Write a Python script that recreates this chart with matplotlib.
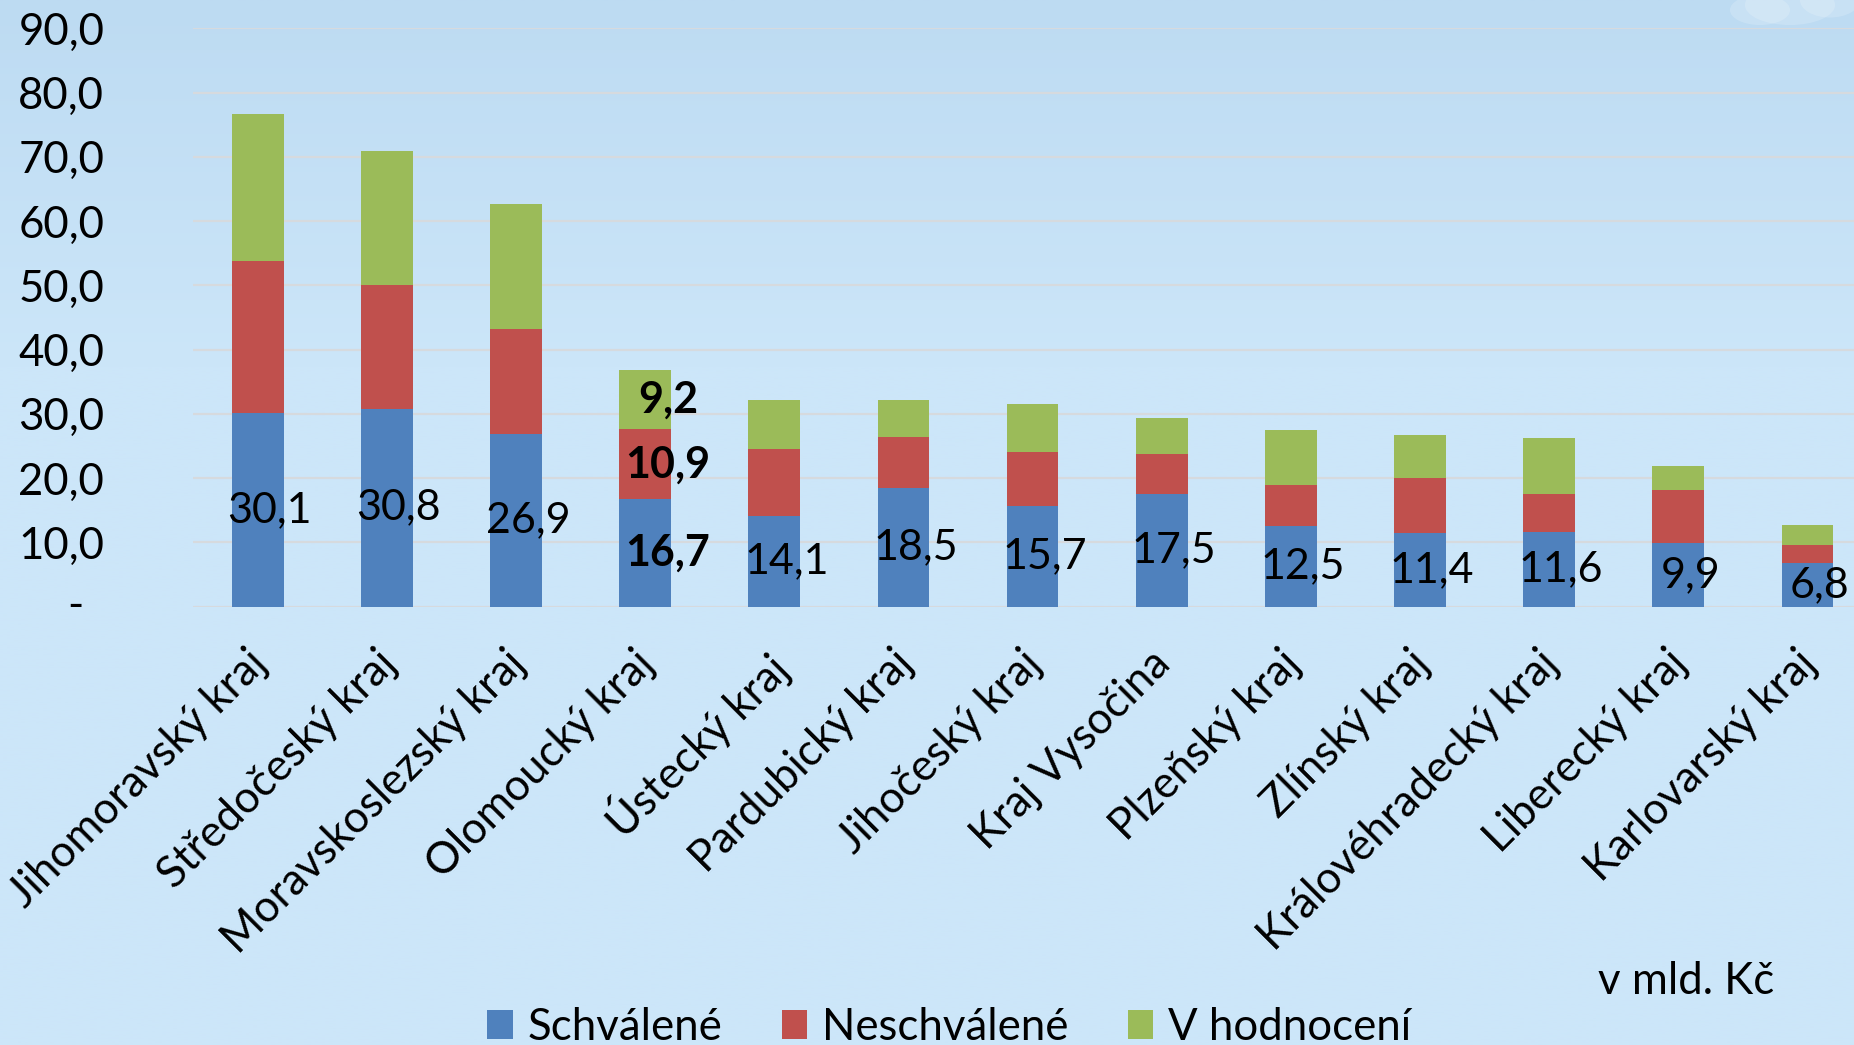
import numpy as np
import matplotlib
matplotlib.use("Agg")
import matplotlib.pyplot as plt
from matplotlib.patches import Patch, Ellipse

# ---- data ----
categories = ["Jihomoravský kraj", "Středočeský kraj", "Moravskoslezský kraj",
              "Olomoucký kraj", "Ústecký kraj", "Pardubický kraj", "Jihočeský kraj",
              "Kraj Vysočina", "Plzeňský kraj", "Zlínský kraj", "Královéhradecký kraj",
              "Liberecký kraj", "Karlovarský kraj"]
schvalene = [30.1, 30.8, 26.9, 16.7, 14.1, 18.5, 15.7, 17.5, 12.5, 11.4, 11.6, 9.9, 6.8]
neschvalene = [23.7, 19.3, 16.3, 10.9, 10.4, 7.9, 8.4, 6.2, 6.5, 8.6, 5.9, 8.2, 2.8]
v_hodnoceni = [22.8, 20.8, 19.5, 9.2, 7.7, 5.7, 7.5, 5.7, 8.5, 6.7, 8.8, 3.8, 3.1]
series_names = ["Schválené", "Neschválené", "V hodnocení"]
yticks = [0, 10, 20, 30, 40, 50, 60, 70, 80, 90]
highlight = "Olomoucký kraj"
unit_text = "v mld. Kč"

colors = ["#4F81BD", "#C0504D", "#9BBB59"]
FONT = "Lato"
FS = 31.5
FS_BAR = 31

W, H = 1854, 1045
fig = plt.figure(figsize=(W / 100, H / 100), dpi=100)

# background gradient
bg = fig.add_axes([0, 0, 1, 1], zorder=-10)
top = np.array([189, 219, 242]) / 255
bot = np.array([204, 230, 249]) / 255
t = np.clip(np.linspace(0, 1, 400) / 0.35, 0, 1)[:, None]
grad = top * (1 - t) + bot * t
img = np.repeat(grad[:, None, :], 2, axis=1)
bg.imshow(img, extent=[0, W, H, 0], aspect="auto")
for (cx, cy, w, h) in [(1790, 5, 90, 40), (1760, 10, 60, 30), (1830, 0, 60, 35)]:
    bg.add_patch(Ellipse((cx, cy), w, h, color="white", alpha=0.18, lw=0))
bg.set_xlim(0, W)
bg.set_ylim(H, 0)
bg.axis("off")

# main axes
left_px, right_px, top_px, base_px = 193.2, 1872.0, 28.4, 606.6
ax = fig.add_axes([left_px / W, 1 - base_px / H, (right_px - left_px) / W,
                   (base_px - top_px) / H])
ax.set_facecolor("none")
x = np.arange(len(categories))
ax.set_xlim(-0.5, len(categories) - 0.5)
ax.set_ylim(0, 90)

for yv in yticks:
    ax.axhline(yv, color="#D6DADE", lw=1.6, zorder=0)

s1 = np.array(schvalene)
s2 = np.array(neschvalene)
s3 = np.array(v_hodnoceni)
ax.bar(x, s1, width=0.4, color=colors[0], zorder=2)
ax.bar(x, s2, width=0.4, bottom=s1, color=colors[1], zorder=2)
ax.bar(x, s3, width=0.4, bottom=s1 + s2, color=colors[2], zorder=2)

def fmt(v):
    return f"{v:.1f}".replace(".", ",")

for i, cat in enumerate(categories):
    bold = cat == highlight
    dx = 16.5 if bold else 8.6
    ax.annotate(fmt(s1[i]), xy=(x[i], s1[i] / 2), xytext=(dx, 0), textcoords="offset points",
                ha="center", va="center", fontsize=FS_BAR, family=FONT,
                fontweight="bold" if bold else "normal", zorder=5)
    if bold:
        ax.annotate(fmt(s2[i]), xy=(x[i], s1[i] + s2[i] / 2), xytext=(dx, 0),
                    textcoords="offset points", ha="center", va="center",
                    fontsize=FS_BAR, family=FONT, fontweight="bold", zorder=5)
        ax.annotate(fmt(s3[i]), xy=(x[i], s1[i] + s2[i] + s3[i] / 2), xytext=(dx, 0),
                    textcoords="offset points", ha="center", va="center",
                    fontsize=FS_BAR, family=FONT, fontweight="bold", zorder=5)

# y tick labels
ax.set_yticks(yticks)
ax.set_yticklabels([""] + [fmt(v) for v in yticks[1:]], family=FONT, fontsize=FS)
ax.tick_params(axis="y", length=0, pad=64)
ax.annotate("-", xy=(0, 0), xycoords=("axes fraction", "data"), xytext=(-(193 - 83) * 0.72, 0),
            textcoords="offset points", ha="right", va="center", fontsize=FS, family=FONT)

# category labels
ax.set_xticks([])
for i, cat in enumerate(categories):
    ax.annotate(cat, xy=(x[i], 0), xytext=(-12 * 0.72, -36 * 0.72), textcoords="offset points",
                ha="right", va="top", rotation=45, rotation_mode="anchor",
                fontsize=FS, family=FONT, annotation_clip=False)

for sp in ax.spines.values():
    sp.set_visible(False)

fig.text(1774 / W, 1 - 981 / H, unit_text, ha="right", va="center", fontsize=FS, family=FONT)

handles = [Patch(facecolor=c, edgecolor="none") for c in colors]
fig.legend(handles, series_names, loc="center", bbox_to_anchor=(0.512, 0.017), ncol=3,
           frameon=False, prop={"family": FONT, "size": FS}, handlelength=0.58,
           handleheight=0.62, handletextpad=0.34, columnspacing=1.36, borderpad=0,
           borderaxespad=0)

fig.savefig("out.png", dpi=100)
